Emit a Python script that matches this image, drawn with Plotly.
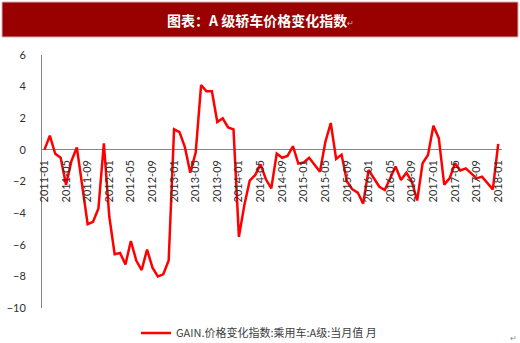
import pandas as pd
import plotly.graph_objects as go

# ---- data ----
months = [d.strftime("%Y-%m") for d in pd.date_range("2011-01-01", "2018-01-01", freq="MS")]
values = [
    0.0, 0.9, -0.25, -0.5, -2.2, -0.7, 0.15, -2.2, -4.7, -4.55, -3.7, 0.42,   # 2011
    -4.2, -6.6, -6.52, -7.24, -5.76, -7.0, -7.6, -6.3, -7.45, -8.0, -7.87, -7.0,  # 2012
    1.3, 1.12, 0.17, -1.44, -0.17, 4.1, 3.7, 3.7, 1.76, 2.0, 1.42, 1.3,        # 2013
    -5.5, -3.5, -1.95, -1.6, -0.92, -1.86, -2.43, -0.23, -0.5, -0.38, 0.23, -0.87,  # 2014
    -0.8, -0.5, -0.95, -1.38, 0.5, 1.7, -0.57, -0.3, -2.0, -2.5, -2.7, -3.4,   # 2015
    -1.27, -1.8, -2.33, -2.54, -1.75, -1.05, -1.9, -1.44, -2.0, -3.2, -0.85, -0.32,  # 2016
    1.52, 0.74, -2.2, -1.8, -0.85, -1.3, -1.17, -1.48, -1.8, -1.69, -2.07, -2.5,  # 2017
    0.38,  # 2018-01
]
tick_labels = months[::4]
y_ticks = [6, 4, 2, 0, -2, -4, -6, -8, -10]
title_text = "图表：A 级轿车价格变化指数"
series_name = "GAIN.价格变化指数:乘用车:A级:当月值 月"

# ---- layout geometry ----
W, H = 520, 343
ML, MR, MT, MB = 42, 18, 55, 35
PW, PH = W - ML - MR, H - MT - MB
ymin, ymax = -10, 6

def px(xp):
    return (xp - ML) / PW

def py(yp):
    return (H - MB - yp) / PH

fig = go.Figure()
fig.add_trace(go.Scatter(
    x=months, y=values, mode="lines", name=series_name,
    line=dict(color="#FF0000", width=2.5),
))

fig.update_layout(
    width=W, height=H,
    margin=dict(l=ML, r=MR, t=MT, b=MB, autoexpand=False),
    paper_bgcolor="white", plot_bgcolor="white",
    font=dict(family="Lato, 'Noto Sans CJK SC', sans-serif", color="#404040", size=11),
    showlegend=True,
    legend=dict(
        orientation="h", x=px(259), xanchor="center", y=py(333), yanchor="middle",
        font=dict(family="'Noto Sans CJK SC', Lato, sans-serif", size=11, color="#404040"),
        bgcolor="rgba(0,0,0,0)",
    ),
    xaxis=dict(
        type="category",
        range=[-0.45, 84.7],
        tickmode="array", tickvals=tick_labels, ticktext=tick_labels,
        tickangle=-90,
        showgrid=False, zeroline=False,
        showline=False,
        ticks="",
        anchor="free", position=(0 - ymin) / (ymax - ymin),
        tickfont=dict(family="Lato, sans-serif", size=11, color="#303030"),
        ticklabelstandoff=7,
    ),
    yaxis=dict(
        range=[ymin, ymax],
        tickmode="array", tickvals=y_ticks,
        showgrid=False,
        zeroline=True, zerolinecolor="#868686", zerolinewidth=1,
        showline=True, linecolor="#868686", linewidth=1,
        ticks="",
        tickfont=dict(family="Lato, sans-serif", size=11, color="#303030"),
        ticklabelstandoff=13,
    ),
)

# title bar
fig.add_shape(type="rect", xref="paper", yref="paper",
              x0=px(2), x1=px(518), y0=py(37), y1=py(2),
              fillcolor="#990000", line=dict(color="#d8b0b0", width=1), layer="above")
fig.add_annotation(xref="paper", yref="paper", x=px(260), y=py(20),
                   xanchor="center", yanchor="middle", showarrow=False,
                   text="<b>" + title_text + "</b><span style='font-size:8px;color:#bbbbbb'>↵</span>",
                   font=dict(family="'Noto Sans CJK SC', sans-serif", size=14, color="white"))
fig.add_annotation(xref="paper", yref="paper", x=px(513), y=py(338),
                   xanchor="center", yanchor="middle", showarrow=False,
                   text="↵", font=dict(size=8, color="#888888"))

fig.write_html("out.html")
